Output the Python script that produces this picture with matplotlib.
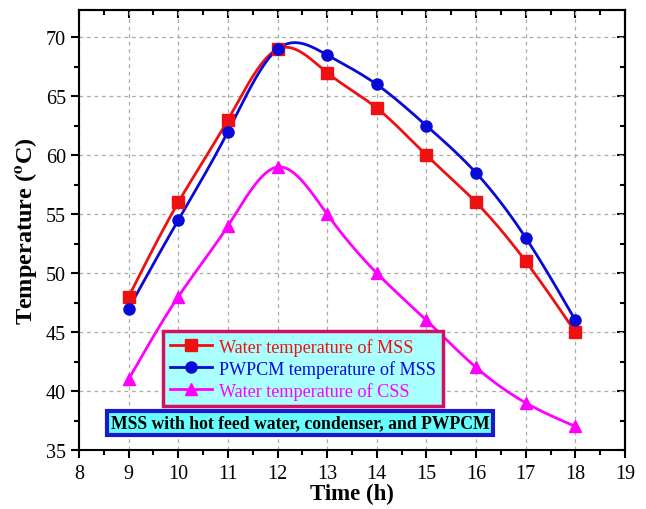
import numpy as np
import matplotlib
matplotlib.use("Agg")
import matplotlib.pyplot as plt
from matplotlib.ticker import MultipleLocator

plt.rcParams['font.family'] = ['Liberation Serif', 'DejaVu Serif']
plt.rcParams['mathtext.fontset'] = 'stix'

hours = [9, 10, 11, 12, 13, 14, 15, 16, 17, 18]
water_mss = [48, 56, 63, 69, 67, 64, 60, 56, 51, 45]
pwpcm_mss = [47, 54.5, 62, 69, 68.5, 66, 62.5, 58.5, 53, 46]
water_css = [41, 48, 54, 59, 55, 50, 46, 42, 39, 37]

labels = ["Water temperature of MSS", "PWPCM temperature of MSS",
          "Water temperature of CSS"]
colors = ["#ee1111", "#0a0ad8", "#ff00ff"]
markers = ["s", "o", "^"]


def smooth(x, y, n=300):
    # natural cubic spline, just for drawing the connecting line
    x = np.asarray(x, float)
    y = np.asarray(y, float)
    k = len(x)
    h = np.diff(x)
    a = np.zeros((k, k))
    b = np.zeros(k)
    a[0, 0] = a[-1, -1] = 1
    for i in range(1, k - 1):
        a[i, i - 1] = h[i - 1]
        a[i, i] = 2 * (h[i - 1] + h[i])
        a[i, i + 1] = h[i]
        b[i] = 6 * ((y[i + 1] - y[i]) / h[i] - (y[i] - y[i - 1]) / h[i - 1])
    m = np.linalg.solve(a, b)
    xs = np.linspace(x[0], x[-1], n)
    idx = np.clip(np.searchsorted(x, xs) - 1, 0, k - 2)
    x0, x1 = x[idx], x[idx + 1]
    hh = x1 - x0
    t0, t1 = x1 - xs, xs - x0
    ys = (m[idx] * t0 ** 3 + m[idx + 1] * t1 ** 3) / (6 * hh) \
        + (y[idx] / hh - m[idx] * hh / 6) * t0 \
        + (y[idx + 1] / hh - m[idx + 1] * hh / 6) * t1
    return xs, ys


fig = plt.figure(figsize=(6.46, 5.10), dpi=100)
ax = fig.add_axes([0.1223, 0.1157, 0.8452, 0.8623])

for series, lab, c, mk in zip([water_mss, pwpcm_mss, water_css], labels, colors, markers):
    xs, ys = smooth(hours, series)
    ax.plot(xs, ys, color=c, lw=2, zorder=3)
    ax.plot(hours, series, linestyle='none', marker=mk, color=c, ms=8, zorder=4)
    ax.plot([], [], color=c, lw=2, marker=mk, ms=8, label=lab)

ax.set_xlim(8, 19)
ax.set_ylim(35, 72.3)
ax.xaxis.set_major_locator(MultipleLocator(1))
ax.xaxis.set_minor_locator(MultipleLocator(0.5))
ax.yaxis.set_major_locator(MultipleLocator(5))
ax.yaxis.set_minor_locator(MultipleLocator(2.5))
ax.grid(True, which='major', linestyle=(0, (3, 3)), color='#aaaaaa', lw=0.9)
ax.set_axisbelow(True)

ax.tick_params(which='both', direction='out', width=1.5, labelsize=14.5, top=False, right=False)
ax.tick_params(which='major', length=6)
ax.tick_params(which='minor', length=3.5)
ax.tick_params(axis='x', which='major', pad=4)
sec_x = ax.secondary_xaxis('top')
sec_x.xaxis.set_major_locator(MultipleLocator(1))
sec_x.xaxis.set_minor_locator(MultipleLocator(0.5))
sec_x.tick_params(which='both', direction='in', width=1.5, labeltop=False)
sec_x.tick_params(which='major', length=6)
sec_x.tick_params(which='minor', length=3.5)
sec_y = ax.secondary_yaxis('right')
sec_y.yaxis.set_major_locator(MultipleLocator(5))
sec_y.yaxis.set_minor_locator(MultipleLocator(2.5))
sec_y.tick_params(which='both', direction='in', width=1.5, labelright=False)
sec_y.tick_params(which='major', length=6)
sec_y.tick_params(which='minor', length=3.5)
for sp in ax.spines.values():
    sp.set_linewidth(1.5)
for sp in list(sec_x.spines.values()) + list(sec_y.spines.values()):
    sp.set_linewidth(1.5)

ax.set_xlabel("Time (h)", fontsize=16.5, fontweight='bold', labelpad=0)
ax.set_ylabel(r"Temperature ($\mathbf{^o}$C)", fontsize=17.5, fontweight='bold', labelpad=5)

leg = ax.legend(loc='upper left', bbox_to_anchor=(0.154, 0.2705), borderaxespad=0,
                fontsize=13.1, fancybox=False, framealpha=1, handlelength=2.3,
                handletextpad=0.4, labelspacing=0.22, borderpad=0.38)
leg.get_frame().set_facecolor('#aaffff')
leg.get_frame().set_edgecolor('#d01060')
leg.get_frame().set_linewidth(2.5)
for txt, c in zip(leg.get_texts(), colors):
    txt.set_color(c)

ax.text(0.405, 0.061, "MSS with hot feed water, condenser, and PWPCM",
        transform=ax.transAxes, ha='center', va='center', fontsize=12.7,
        fontweight='bold', zorder=6,
        bbox=dict(boxstyle='square,pad=0.2', facecolor='#66ffff',
                  edgecolor='#1a1acc', linewidth=3))

fig.savefig("out.png", dpi=100)
